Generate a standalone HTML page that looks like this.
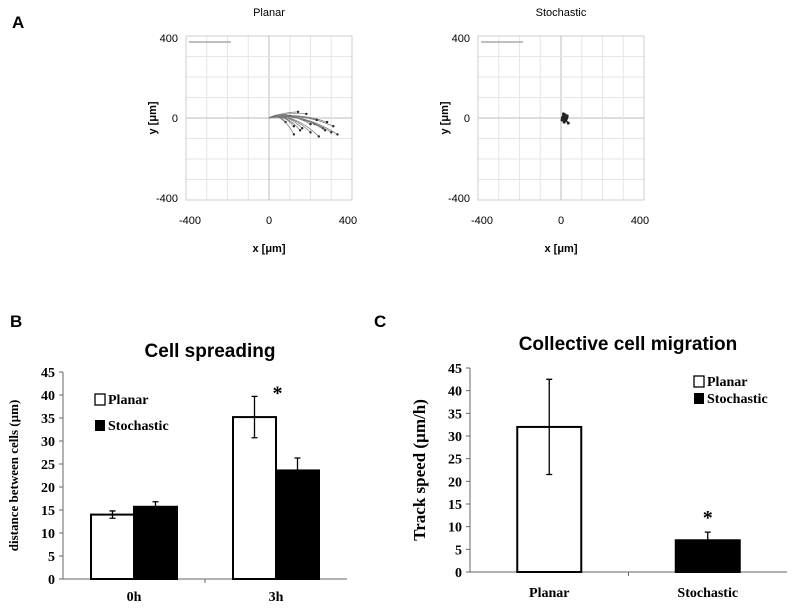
<!DOCTYPE html>
<html><head><meta charset="utf-8"><style>
body{margin:0;background:#fff;width:800px;height:613px;overflow:hidden}
svg{display:block}
.s{font-family:"Liberation Sans",Arial,sans-serif}
.t{font-family:"Liberation Serif",serif;font-weight:bold}
</style></head><body>
<svg id="svg" width="800" height="613" xmlns="http://www.w3.org/2000/svg">
<text x="12" y="28" class="s" font-size="17" font-weight="bold">A</text>
<text x="10" y="327" class="s" font-size="17" font-weight="bold">B</text>
<text x="374" y="327" class="s" font-size="17" font-weight="bold">C</text>
<g id="ga"></g><g id="gb"></g><g id="gc"></g>
</svg>
<script>
// Panel A trajectory endpoints (µm)
const planarEndX=[80,120,150,170,200,220,240,260,280,300,310,330,180,140,100,230,200,270,160,120];
const planarEndY=[-20,-40,-60,-10,-70,-30,-90,-50,-20,-70,-40,-80,20,30,10,-10,-30,-60,-50,-80];
const stochEndX=[5,10,15,20,25,30,35,12,18,28];
const stochEndY=[-10,5,-20,15,-5,10,-25,20,-15,0];
const spreadCats=["0h","3h"];
const spreadPlanar=[14,35.2];
const spreadStoch=[15.7,23.6];
const spreadPlanarErr=[0.8,4.5];
const spreadStochErr=[1.1,2.7];
const speedCats=["Planar","Stochastic"];
const speedVals=[32,7];
const speedErr=[10.5,1.8];
const speedFill=["#fff","#000"];
const yTicks=[0,5,10,15,20,25,30,35,40,45];
const NS="http://www.w3.org/2000/svg";
function mk(p,tag,at,txt){const e=document.createElementNS(NS,tag);for(const k in at)e.setAttribute(k,at[k]);if(txt!==undefined)e.textContent=txt;p.appendChild(e);return e;}

function scatterPanel(g,x0,title,ex,ey,small){
  const L=x0,R=x0+166,T=36,B=200;
  const sx=v=>L+(v+400)/800*(R-L), sy=v=>B-(v+400)/800*(B-T);
  let e=mk(g,'text',{x:(L+R)/2,y:16,'text-anchor':'middle','font-size':11,class:'s'},title);
  
  for(let v=-400;v<=400;v+=100){
    const c=v===0?'#bbb':'#e6e6e6';
    mk(g,'line',{x1:sx(v),x2:sx(v),y1:T,y2:B,stroke:c,'stroke-width':1});
    mk(g,'line',{x1:L,x2:R,y1:sy(v),y2:sy(v),stroke:c,'stroke-width':1});
  }
  e=mk(g,'rect',{x:L,y:T,width:R-L,height:B-T,fill:'none',stroke:'#ccc'});
  
  mk(g,'line',{x1:L+3,x2:L+45,y1:T+6,y2:T+6,stroke:'#aaa','stroke-width':1.5});
  [[400,T+6],[0,sy(0)+4],[-400,B+2]].forEach(([v,y])=>{
    e=mk(g,'text',{x:L-8,y:y,'text-anchor':'end','font-size':11,class:'s'},String(v));
    
  });
  [[-400,L+4],[0,sx(0)],[400,R-4]].forEach(([v,x])=>{
    e=mk(g,'text',{x:x,y:224,'text-anchor':'middle','font-size':11,class:'s'},String(v));
    
  });
  e=mk(g,'text',{x:sx(0),y:252,'text-anchor':'middle','font-size':11,'font-weight':'bold',class:'s'},'x [μm]');
  
  e=mk(g,'text',{x:0,y:0,transform:`translate(${L-30},${sy(0)}) rotate(-90)`,'text-anchor':'middle','font-size':11,'font-weight':'bold',class:'s'},'y [μm]');
  
  for(let i=0;i<ex.length;i++){
    const x=sx(ex[i]),y=sy(ey[i]);
    e=mk(g,'path',{d:`M${sx(0)},${sy(0)} Q${(sx(0)+x)/2},${sy(0)+(small?0:-6)} ${x},${y}`,fill:'none',stroke:small?'#222':'#777','stroke-width':small?1.5:0.7});
    
    e=mk(g,'circle',{cx:x,cy:y,r:small?1.5:1.2,fill:'#222'});
    
  }
}
scatterPanel(document.getElementById('ga'),186,'Planar',planarEndX,planarEndY,false);
scatterPanel(document.getElementById('gb'),478,'Stochastic',stochEndX,stochEndY,true);

function axes(g,L,R,B,T,title,tx,ty,ylab){
  const sy=v=>B-v/45*(B-T);
  let e=mk(g,'text',{x:tx,y:ty,'text-anchor':'middle','font-size':19,'font-weight':'bold',class:'s'},title);
  
  mk(g,'line',{x1:L,x2:L,y1:T,y2:B,stroke:'#666'});
  mk(g,'line',{x1:L,x2:R,y1:B,y2:B,stroke:'#666'});
  yTicks.forEach(v=>{
    mk(g,'line',{x1:L-4,x2:L,y1:sy(v),y2:sy(v),stroke:'#666'});
    e=mk(g,'text',{x:L-8,y:sy(v)+5,'text-anchor':'end','font-size':14,class:'t'},String(v));
    
  });
  e=mk(g,'text',{x:0,y:0,transform:`translate(${L-45},${(T+B)/2}) rotate(-90)`,'text-anchor':'middle','font-size':ylab[1],class:'t'},ylab[0]);
  
  return sy;
}
function bar(g,x,w,v,sy,fill,name){
  const e=mk(g,'rect',{x:x,y:sy(v),width:w,height:sy(0)-sy(v),fill:fill,stroke:'#000','stroke-width':2});
  
}
function err(g,x,v,up,lo,sy){
  const e=mk(g,'path',{d:`M${x},${sy(v+up)}V${sy(v-lo)}M${x-3},${sy(v+up)}H${x+3}M${x-3},${sy(v-lo)}H${x+3}`,stroke:'#000','stroke-width':1.3,fill:'none'});
  
}
function legend(g,x,y1,y2){
  let e=mk(g,'rect',{x:x,y:y1-10,width:10,height:11,fill:'#fff',stroke:'#000','stroke-width':1.3});
  
  e=mk(g,'text',{x:x+13,y:y1,'font-size':14,class:'t'},'Planar');
  
  e=mk(g,'rect',{x:x,y:y2-10,width:10,height:11,fill:'#000'});
  
  e=mk(g,'text',{x:x+13,y:y2,'font-size':14,class:'t'},'Stochastic');
  
}
// Panel B
(function(){
  const g=document.getElementById('gc'),L=63,R=347,B=579,T=372;
  const sy=axes(g,L,R,B,T,'Cell spreading',210,357,['distance between cells (µm)',13]);
  const gw=(R-L)/spreadCats.length,bw=43;
  spreadCats.forEach((c,i)=>{
    const cx=L+gw*(i+0.5);
    if(i>0)mk(g,'line',{x1:L+gw*i,x2:L+gw*i,y1:B,y2:B+4,stroke:'#666'});
    bar(g,cx-bw,bw,spreadPlanar[i],sy,'#fff','bar-planar-'+c);
    bar(g,cx,bw,spreadStoch[i],sy,'#000','bar-stochastic-'+c);
    err(g,cx-bw/2,spreadPlanar[i],spreadPlanarErr[i],spreadPlanarErr[i],sy);
    err(g,cx+bw/2,spreadStoch[i],spreadStochErr[i],0,sy);
    const e=mk(g,'text',{x:cx,y:B+22,'text-anchor':'middle','font-size':14,class:'t'},c);
    
  });
  const e=mk(g,'text',{x:L+gw*1.5-bw/2+23,y:sy(39),'text-anchor':'middle','font-size':20,class:'t'},'*');
  
  legend(g,95,404,430);
})();
// Panel C
(function(){
  const g=document.createElementNS(NS,'g');document.getElementById('svg').appendChild(g);
  const L=470,R=787,B=572,T=368;
  const sy=axes(g,L,R,B,T,'Collective cell migration',628,350,['Track speed (µm/h)',17]);
  const gw=(R-L)/speedCats.length,bw=64;
  speedCats.forEach((c,i)=>{
    const cx=L+gw*(i+0.5);
    if(i>0)mk(g,'line',{x1:L+gw*i,x2:L+gw*i,y1:B,y2:B+4,stroke:'#666'});
    bar(g,cx-bw/2,bw,speedVals[i],sy,speedFill[i],'bar-'+c.toLowerCase());
    err(g,cx,speedVals[i],speedErr[i],i===0?speedErr[i]:0,sy);
    const e=mk(g,'text',{x:cx,y:B+25,'text-anchor':'middle','font-size':14,class:'t'},c);
    
  });
  const e=mk(g,'text',{x:L+gw*1.5,y:sy(11)+2,'text-anchor':'middle','font-size':20,class:'t'},'*');
  
  legend(g,694,386,403);
})();
</script>
</body></html>
